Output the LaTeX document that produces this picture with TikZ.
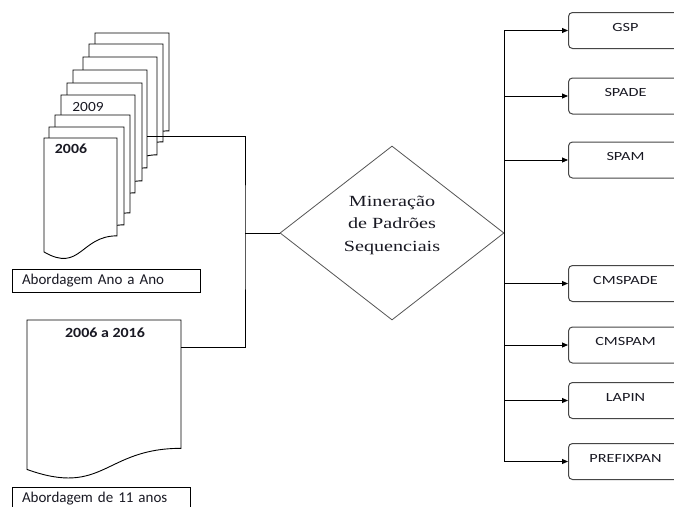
\documentclass[tikz,border=0pt]{standalone}
\usepackage{fontspec}
\setmainfont{Carlito}
\newfontfamily\serifface{Liberation Serif}
\usepackage{graphicx}
\usetikzlibrary{shapes.geometric,arrows.meta,calc}
\newcommand\xwide[2]{\scalebox{#1}[1]{#2}}

\definecolor{boxgray}{RGB}{70,70,70}
\definecolor{diamondgray}{RGB}{85,85,85}
\definecolor{inkdark}{RGB}{25,25,35}

\tikzset{
  pagebox/.style={draw=black, line width=0.9pt, fill=white},
  % page with a wavy bottom edge (flowchart "document" symbol)
  pics/docpage/.style 2 args={code={
    \draw[pagebox] (0,0) -- (#1,0) -- (#1,{0.802*#2})
      .. controls ({0.5*#1},{0.802*#2}) and ({0.5*#1},{1.1075*#2}) .. (0,{0.934*#2}) -- cycle;
    \coordinate (-ne) at (#1,0);
  }},
  conn/.style={draw=black, line width=0.9pt},
  arr/.style={conn, -{Triangle[length=6pt,width=5pt]}},
  algbox/.style={draw=boxgray, line width=1pt, rounded corners=4pt, fill=white,
    minimum width=114pt, minimum height=36pt, anchor=west,
    text height=9pt, text depth=8pt, text=inkdark,
    font=\fontsize{12.5}{14}\selectfont},
  notebox/.style={draw=black, line width=0.9pt, minimum height=23pt, align=left,
    text=inkdark, font=\fontsize{15}{18}\selectfont},
  yearlbl/.style={text=inkdark, inner sep=0pt, font=\fontsize{14}{16}\selectfont},
}

\begin{document}
\begin{tikzpicture}[x=1pt, y=-1pt]
\useasboundingbox (0,0) rectangle (674,506);
\clip (0,0) rectangle (674,506);
\fill[white] (0,0) rectangle (674,506);

% stack of yearly pages, back to front
\pic (p1) at (95,33)  {docpage={74}{122}};
\pic (p2) at (89,44)  {docpage={74}{122}};
\pic (p3) at (83,57)  {docpage={74}{122}};
\pic (p4) at (73,70)  {docpage={74}{122}};
\pic (p5) at (67,83)  {docpage={75}{122}};
\pic (p6) at (61,95)  {docpage={74}{122}};
\pic (p7) at (55,115) {docpage={75}{122}};
\pic (p8) at (49,127) {docpage={75}{122}};
\pic (p9) at (44,138) {docpage={73}{122}};
\node[yearlbl] (y2009) at (88,107) {\xwide{1.1}{2009}};
\node[yearlbl, font=\fontsize{14}{16}\selectfont\bfseries] (y2006) at (71,149) {\xwide{1.13}{2006}};

% single page for the whole period
\pic (bigdoc) at (27,320) {docpage={154}{160}};
\node[yearlbl, font=\fontsize{14}{16}\selectfont\bfseries] (yall) at (105,333) {\xwide{1.14}{2006 a 2016}};

% captions
\node[notebox, minimum width=188pt, text width=168pt] (tagyear) at (106,280.5) {Abordagem Ano a Ano};
\node[notebox, minimum width=178pt, text width=158pt] (tagall) at (101,498.5) {Abordagem de 11 anos};

% decision diamond
\node[diamond, draw=diamondgray, line width=0.8pt, fill=white,
      minimum width=224pt, minimum height=174pt, inner sep=0pt] (mine) at (392,233) {};
\node[font=\serifface\fontsize{15.5}{22.5}\selectfont, text=inkdark, align=center] (minelbl) at (392,225)
  {\xwide{1.3}{Mineração}\\\xwide{1.3}{de Padrões}\\\xwide{1.3}{Sequenciais}};

% algorithms
\node[algbox] (gsp)   at (568,30.5)  {\xwide{1.3}{GSP}};
\node[algbox] (spade) at (568,96)    {\xwide{1.3}{SPADE}};
\node[algbox] (spam)  at (568,160)   {\xwide{1.3}{SPAM}};
\node[algbox] (cmspade) at (568,283.5) {\xwide{1.3}{CMSPADE}};
\node[algbox] (cmspam)  at (568,345)   {\xwide{1.3}{CMSPAM}};
\node[algbox] (lapin)   at (568,400.5) {\xwide{1.3}{LAPIN}};
\node[algbox] (pfx)     at (568,461.5) {\xwide{1.3}{PREFIXPAN}};

% left-hand joins
\coordinate (stackout) at ($(p4-ne)+(0,66)$);
\coordinate (docout) at ($(bigdoc-ne)+(0,27)$);
\coordinate (lbus) at (245,233);
\draw[conn] (stackout) -| (lbus) |- (docout);
\draw[conn] (lbus) -- (mine.west);

% right-hand bus and arrows
\draw[conn] (mine.east |- gsp.west) -- (mine.east |- pfx.west);
\foreach \b in {gsp,spade,spam,cmspade,cmspam,lapin,pfx}
  \draw[arr] (mine.east |- \b.west) -- (\b.west);
\end{tikzpicture}
\end{document}
